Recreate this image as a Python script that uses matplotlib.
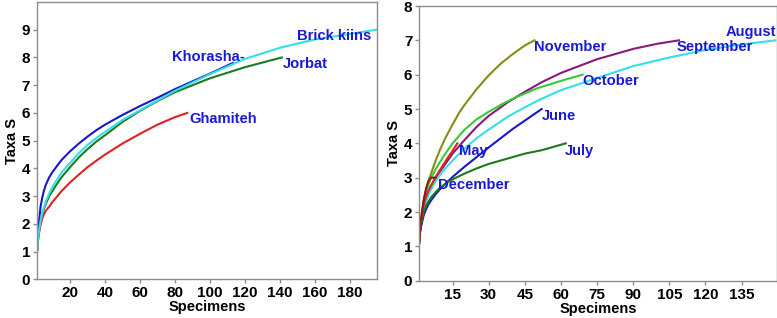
import matplotlib.pyplot as plt
import numpy as np

plt.rcParams['font.family'] = ['Liberation Sans', 'DejaVu Sans']
plt.rcParams['font.weight'] = 'bold'

# ---- left panel: sites ----
khor_x = [1, 1.5, 2, 3, 4, 5, 6, 8, 10, 12, 15, 20, 25, 30, 35, 40, 50, 60, 70, 80, 90, 100, 113]
khor_y = [1, 1.6, 2.0, 2.6, 2.95, 3.2, 3.4, 3.68, 3.88, 4.05, 4.3, 4.62, 4.9, 5.15, 5.38, 5.58, 5.93, 6.25, 6.55, 6.86, 7.14, 7.42, 7.8]

brick_x = [1, 1.5, 2, 3, 4, 5, 6, 8, 10, 12, 15, 20, 25, 30, 35, 40, 50, 60, 70, 80, 100, 120, 140, 160, 180, 195]
brick_y = [1, 1.4, 1.7, 2.1, 2.4, 2.6, 2.8, 3.1, 3.35, 3.55, 3.85, 4.2, 4.55, 4.85, 5.1, 5.32, 5.75, 6.1, 6.45, 6.8, 7.4, 7.95, 8.35, 8.65, 8.85, 9.0]

jorb_x = [1, 1.5, 2, 3, 4, 5, 6, 8, 10, 12, 15, 20, 25, 30, 35, 40, 50, 60, 70, 80, 100, 120, 141]
jorb_y = [1, 1.4, 1.7, 2.1, 2.35, 2.55, 2.72, 3.0, 3.2, 3.4, 3.68, 4.05, 4.4, 4.7, 4.97, 5.2, 5.68, 6.08, 6.43, 6.75, 7.25, 7.65, 8.0]

gham_x = [1, 1.5, 2, 3, 4, 5, 6, 8, 10, 12, 15, 20, 25, 30, 35, 40, 50, 60, 70, 80, 87]
gham_y = [1, 1.35, 1.6, 1.95, 2.2, 2.35, 2.47, 2.62, 2.8, 2.95, 3.18, 3.5, 3.78, 4.05, 4.28, 4.5, 4.9, 5.25, 5.58, 5.85, 6.0]

# ---- right panel: months ----
nov_x = [1, 1.5, 2, 3, 4, 5, 6, 8, 10, 12, 15, 18, 20, 25, 30, 35, 40, 45, 49]
nov_y = [1, 1.5, 1.8, 2.3, 2.65, 2.9, 3.1, 3.5, 3.85, 4.15, 4.55, 4.92, 5.12, 5.58, 5.98, 6.32, 6.6, 6.85, 7.0]

sep_x = [1, 1.5, 2, 3, 4, 5, 6, 8, 10, 12, 15, 20, 25, 30, 38, 45, 52, 60, 75, 90, 100, 109]
sep_y = [1, 1.45, 1.7, 2.1, 2.4, 2.6, 2.75, 3.0, 3.2, 3.4, 3.7, 4.1, 4.48, 4.8, 5.2, 5.5, 5.78, 6.05, 6.45, 6.75, 6.9, 7.0]

aug_x = [1, 1.5, 2, 3, 4, 5, 6, 8, 10, 12, 15, 20, 25, 30, 38, 45, 52, 60, 75, 90, 105, 120, 135, 149]
aug_y = [1, 1.4, 1.65, 2.05, 2.3, 2.5, 2.65, 2.9, 3.1, 3.27, 3.5, 3.85, 4.15, 4.4, 4.78, 5.05, 5.3, 5.55, 5.9, 6.25, 6.5, 6.72, 6.88, 7.0]

oct_x = [1, 1.5, 2, 3, 4, 5, 6, 8, 10, 12, 15, 20, 25, 30, 35, 40, 50, 60, 69]
oct_y = [1, 1.5, 1.8, 2.3, 2.6, 2.8, 2.98, 3.25, 3.48, 3.7, 4.0, 4.4, 4.7, 4.92, 5.12, 5.3, 5.6, 5.82, 6.0]

jun_x = [1, 1.5, 2, 3, 4, 5, 6, 8, 10, 12, 15, 20, 30, 40, 52]
jun_y = [1, 1.4, 1.6, 1.9, 2.08, 2.22, 2.33, 2.52, 2.68, 2.82, 3.02, 3.32, 3.88, 4.42, 5.0]

jul_x = [1, 1.5, 2, 3, 4, 5, 6, 8, 10, 12, 15, 20, 25, 30, 38, 45, 52, 62]
jul_y = [1, 1.42, 1.65, 2.0, 2.18, 2.3, 2.42, 2.58, 2.72, 2.82, 2.95, 3.12, 3.27, 3.4, 3.56, 3.7, 3.8, 4.0]

may_x = [1, 1.5, 2, 3, 4, 5, 6, 8, 10, 13, 15, 17]
may_y = [1, 1.5, 1.8, 2.2, 2.45, 2.62, 2.76, 3.02, 3.25, 3.58, 3.78, 4.0]

dec_x = [1, 1.5, 2, 3, 4, 5, 6, 8]
dec_y = [1, 1.5, 1.85, 2.35, 2.68, 2.9, 3.0, 3.0]

fig = plt.figure(figsize=(7.77, 3.18), dpi=100)
ax1 = fig.add_axes([37 / 777, 1 - 279.3 / 318, (376.7 - 37) / 777, (279.3 - 2) / 318])
ax2 = fig.add_axes([419.3 / 777, 1 - 280.7 / 318, (776.5 - 419.3) / 777, (280.7 - 6) / 318])

lw = 1.5
ax1.plot(khor_x, khor_y, color='#1818c8', lw=lw)
ax1.plot(jorb_x, jorb_y, color='#1e7a1e', lw=lw)
ax1.plot(gham_x, gham_y, color='#e02222', lw=lw)
ax1.plot(brick_x, brick_y, color='#33e0e8', lw=lw)

ax2.plot(nov_x, nov_y, color='#8a8a1a', lw=lw)
ax2.plot(sep_x, sep_y, color='#8a1a7a', lw=lw)
ax2.plot(aug_x, aug_y, color='#33e0e8', lw=lw)
ax2.plot(oct_x, oct_y, color='#33cc33', lw=lw)
ax2.plot(jun_x, jun_y, color='#1818c8', lw=lw)
ax2.plot(jul_x, jul_y, color='#1e7a1e', lw=lw)
ax2.plot(may_x, may_y, color='#e02222', lw=lw)
ax2.plot(dec_x, dec_y, color='#8a1a1a', lw=lw)

lab_col = '#1a1ad2'
left_labels = [('Brick kiins', 149.5, 8.78), ('Khorasha-', 78.5, 8.0),
               ('Jorbat', 141.8, 7.76), ('Ghamiteh', 88.1, 5.78)]
for t, x, y in left_labels:
    ax1.text(x, y, t, color=lab_col, fontsize=10.6, fontweight='bold', va='center', ha='left')

right_labels = [('November', 49, 6.81), ('August', 128.2, 7.24), ('September', 108, 6.81),
                ('October', 68.7, 5.81), ('June', 51.9, 4.81), ('July', 61.5, 3.79),
                ('May', 17.5, 3.79), ('December', 8.8, 2.79)]
for t, x, y in right_labels:
    ax2.text(x, y, t, color=lab_col, fontsize=10.6, fontweight='bold', va='center', ha='left')

ax1.set_xlim(1, 195.3)
ax1.set_ylim(0, 10)
ax1.set_xticks(np.arange(20, 181, 20))
ax1.set_yticks(np.arange(0, 10))
ax2.set_xlim(1.2, 149.5)
ax2.set_ylim(0, 8)
ax2.set_xticks(np.arange(15, 136, 15))
ax2.set_yticks(np.arange(0, 9))

for ax in (ax1, ax2):
    for s in ax.spines.values():
        s.set_color('#8c8c8c')
        s.set_linewidth(1.0)
    ax.tick_params(direction='out', length=3, width=1, color='#8c8c8c', labelsize=11, pad=2)
    for lab in ax.get_xticklabels() + ax.get_yticklabels():
        lab.set_fontweight('bold')
    ax.set_xlabel('Specimens', fontsize=10.5, fontweight='bold', labelpad=0)
    ax.set_ylabel('Taxa S', fontsize=10.5, fontweight='bold', labelpad=2)

fig.savefig('out.png', dpi=100)
